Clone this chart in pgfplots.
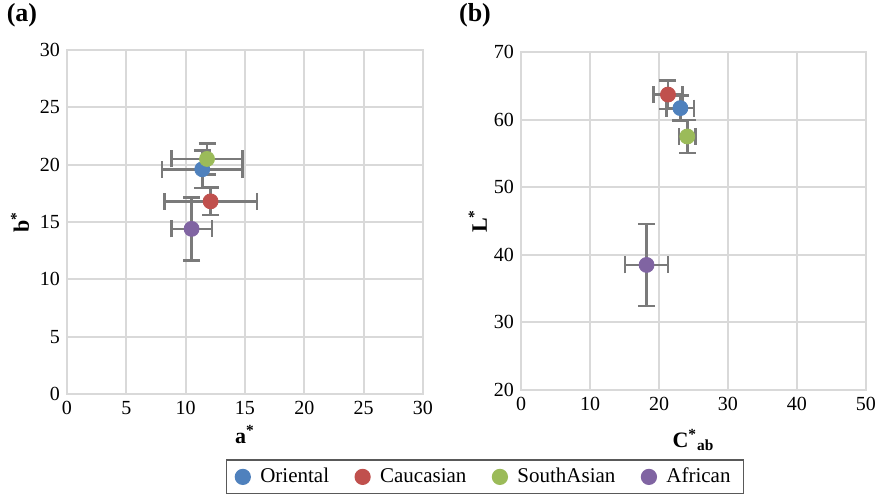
\documentclass[border=0pt]{standalone}
\usepackage{fontspec}
\setmainfont{Liberation Serif}
\usepackage{pgfplots}
\pgfplotsset{compat=1.18}
\definecolor{cOri}{HTML}{4F81BD}
\definecolor{cCau}{HTML}{C0504D}
\definecolor{cSou}{HTML}{9BBB59}
\definecolor{cAfr}{HTML}{8064A2}
\definecolor{ebar}{HTML}{7A7A7A}
\definecolor{gridc}{HTML}{D9D9D9}
\pgfplotsset{
  myax/.style={scale only axis, anchor=south west,
    grid=major, major grid style={gridc, line width=1pt},
    axis line style={gridc, line width=1pt},
    major tick length=0pt,
    tick label style={font=\fontsize{10}{12}\selectfont},
    /pgf/number format/assume math mode=true,
    label style={font=\bfseries\fontsize{11}{13}\selectfont},
  },
  ebs/.style={only marks, mark=*, mark size=3.75pt, mark options={draw=#1, fill=#1},
    error bars/.cd, x dir=both, x explicit, y dir=both, y explicit,
    error bar style={ebar, line width=1.25pt},
    error mark options={rotate=90, ebar, line width=1.25pt, mark size=4.25pt}},
}
\begin{document}
\begin{tikzpicture}
\useasboundingbox (0,0) rectangle (442pt,249pt);
\begin{axis}[myax, at={(33.5pt,52pt)}, width=178pt, height=172pt,
  xmin=0, xmax=30, ymin=0, ymax=30, xtick={0,5,...,30}, ytick={0,5,...,30},
  xlabel={a\textsuperscript{*}}, ylabel={b\textsuperscript{*}},
  xlabel style={at={(axis description cs:0.5,-0.119)}, anchor=center},
  ylabel style={at={(axis description cs:-0.132,0.5)}, anchor=center},
  legend style={at={(1.174,-0.241)}, anchor=center, legend columns=4,
    draw=black!65, line width=0.6pt, font=\fontsize{10.5}{12}\selectfont,
    inner xsep=4.5pt,
    /tikz/every odd column/.append style={column sep=3pt},
    /tikz/every even column/.append style={column sep=11pt}},
  ]
\addplot+[ebs=cOri] coordinates {(11.4,19.6) +- (3.4,1.65)};
\addplot+[ebs=cCau] coordinates {(12.1,16.8) +- (3.9,1.2)};
\addplot+[ebs=cSou] coordinates {(11.8,20.5) +- (3.0,1.35)};
\addplot+[ebs=cAfr] coordinates {(10.5,14.4) +- (1.7,2.75)};
\legend{Oriental, Caucasian, SouthAsian, African}
\end{axis}
\begin{axis}[myax, at={(260.5pt,54pt)}, width=172.5pt, height=169pt,
  xmin=0, xmax=50, ymin=20, ymax=70, xtick={0,10,...,50}, ytick={20,30,...,70},
  xlabel={C\textsuperscript{*}\textsubscript{ab}}, ylabel={L\textsuperscript{*}},
  xlabel style={at={(axis description cs:0.5,-0.148)}, anchor=center},
  ylabel style={at={(axis description cs:-0.125,0.5)}, anchor=center},
  ]
\addplot+[ebs=cOri] coordinates {(23.1,61.7) +- (2.0,1.85)};
\addplot+[ebs=cCau] coordinates {(21.3,63.7) +- (2.1,2.1)};
\addplot+[ebs=cSou] coordinates {(24.1,57.5) +- (1.2,2.45)};
\addplot+[ebs=cAfr] coordinates {(18.2,38.5) +- (3.1,6.05)};
\end{axis}
\node[font=\bfseries\fontsize{13}{15}\selectfont] at (11pt,241.5pt) {(a)};
\node[font=\bfseries\fontsize{13}{15}\selectfont] at (237.5pt,241.5pt) {(b)};
\end{tikzpicture}
\end{document}
